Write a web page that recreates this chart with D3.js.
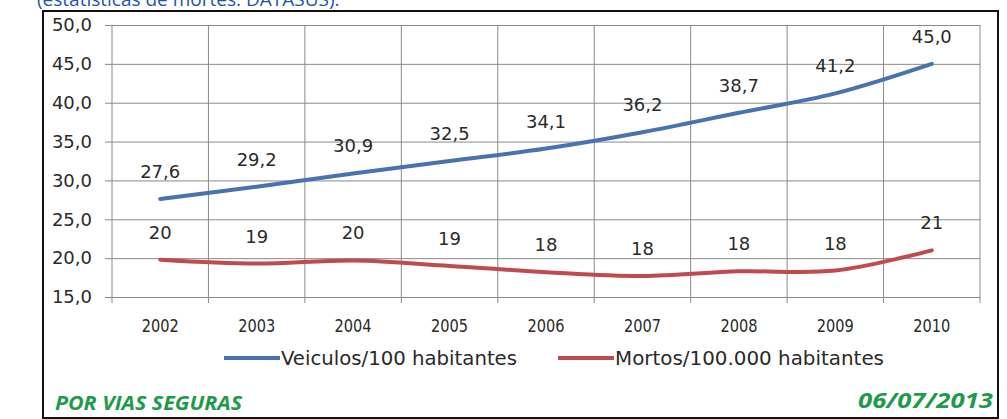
<!DOCTYPE html>
<html>
<head>
<meta charset="utf-8">
<script src="https://cdn.jsdelivr.net/npm/d3@7"></script>
<style>
  body { margin: 0; background: #fff; }
  svg { display: block; }
</style>
</head>
<body>
<svg id="chart" width="1007" height="419"></svg>
<script>
// chart data
var years = ["2002", "2003", "2004", "2005", "2006", "2007", "2008", "2009", "2010"];
var veiculos = [27.6, 29.2, 30.9, 32.5, 34.1, 36.2, 38.7, 41.2, 45.0];
var mortos = [19.8, 19.3, 19.7, 19.0, 18.2, 17.7, 18.3, 18.4, 21.0];
var yTicks = [15, 20, 25, 30, 35, 40, 45, 50];
var seriesNames = ["Veiculos/100 habitantes", "Mortos/100.000 habitantes"];

var pt = d3.formatLocale({decimal: ",", thousands: ".", grouping: [3], currency: ["", ""]});
var fmt1 = pt.format(".1f");
var fmt0 = pt.format(".0f");

var svg = d3.select("#chart");
var labelFont = "'DejaVu Sans', Verdana, sans-serif";
var narrowFont = "'Liberation Sans Narrow', 'DejaVu Sans Condensed', 'Open Sans', sans-serif";

// title remnant at top (cut off in the original too)
svg.append("text")
  .attr("x", 37).attr("y", 6)
  .style("font-family", "'Open Sans', sans-serif")
  .style("font-size", "19px")
  .style("fill", "#1d55b3")
  .text("(estatísticas de mortes: DATASUS).");

// outer frame
svg.append("rect")
  .attr("x", 43).attr("y", 11)
  .attr("width", 955).attr("height", 407)
  .style("fill", "#fff")
  .style("stroke", "#111")
  .style("stroke-width", 2);

var x = d3.scaleBand().domain(years).range([112, 980]);
var y = d3.scaleLinear().domain([15, 50]).range([297, 25]);

// horizontal grid + y ticks
var gy = svg.append("g").attr("transform", "translate(980,0)");
gy.call(d3.axisLeft(y).tickValues(yTicks).tickSize(980 - 105).tickFormat(fmt1).tickPadding(13));
gy.select(".domain").remove();
gy.selectAll("line").style("stroke", "#8a8a8a");
gy.selectAll("text")
  .style("font-family", labelFont)
  .style("font-size", "18px")
  .style("fill", "#2a2a2a");

// vertical grid at band edges
var edges = years.map(function(d) { return x(d); }).concat([980]);
svg.append("g").selectAll("line")
  .data(edges)
  .enter().append("line")
  .attr("x1", function(d) { return d; })
  .attr("x2", function(d) { return d; })
  .attr("y1", 25).attr("y2", 303)
  .style("stroke", "#8a8a8a");

// x axis labels
var gx = svg.append("g").attr("transform", "translate(0,297)");
gx.call(d3.axisBottom(x).tickSize(0).tickPadding(22));
gx.select(".domain").style("stroke", "#8a8a8a");
gx.selectAll("text")
  .style("font-family", narrowFont)
  .style("font-size", "18px")
  .style("fill", "#2a2a2a")
  .attr("textLength", 37)
  .attr("lengthAdjust", "spacingAndGlyphs");

var line = d3.line()
  .x(function(d, i) { return x(years[i]) + x.bandwidth() / 2; })
  .y(function(d) { return y(d); })
  .curve(d3.curveCatmullRom);

var series = [
  {name: seriesNames[0], values: veiculos, color: "#4a72b0", fmt: fmt1, w: 236},
  {name: seriesNames[1], values: mortos, color: "#bf4b4f", fmt: fmt0, w: 269}
];

series.forEach(function(s) {
  svg.append("path")
    .datum(s.values)
    .attr("d", line)
    .style("fill", "none")
    .style("stroke", s.color)
    .style("stroke-width", 4)
    .style("stroke-linecap", "round");

  svg.append("g").selectAll("text")
    .data(s.values)
    .enter().append("text")
    .attr("x", function(d, i) { return x(years[i]) + x.bandwidth() / 2; })
    .attr("y", function(d) { return y(d) - 21; })
    .attr("text-anchor", "middle")
    .style("font-family", labelFont)
    .style("font-size", "18px")
    .style("fill", "#2a2a2a")
    .text(function(d) { return s.fmt(d); });
});

// legend
var legendPos = [224, 558];
series.forEach(function(s, i) {
  var g = svg.append("g").attr("transform", "translate(" + legendPos[i] + ",358)");
  g.append("line")
    .attr("x1", 0).attr("x2", 56)
    .style("stroke", s.color)
    .style("stroke-width", 4);
  g.append("text")
    .attr("x", 57).attr("y", 7)
    .style("font-family", narrowFont)
    .style("font-size", "19px")
    .style("fill", "#2a2a2a")
    .attr("textLength", s.w)
    .attr("lengthAdjust", "spacingAndGlyphs")
    .text(s.name);
});

// footer
svg.append("text")
  .attr("x", 55).attr("y", 410)
  .style("font-family", "'Open Sans', sans-serif")
  .style("font-weight", "bold")
  .style("font-style", "italic")
  .style("font-size", "20px")
  .style("fill", "#1f9a4c")
  .attr("textLength", 187)
  .attr("lengthAdjust", "spacingAndGlyphs")
  .text("POR VIAS SEGURAS");

svg.append("text")
  .attr("x", 993).attr("y", 408)
  .attr("text-anchor", "end")
  .style("font-family", "'Open Sans', sans-serif")
  .style("font-weight", "bold")
  .style("font-style", "italic")
  .style("font-size", "22px")
  .style("fill", "#1f9a4c")
  .attr("textLength", 135)
  .attr("lengthAdjust", "spacingAndGlyphs")
  .text("06/07/2013");
</script>
</body>
</html>
